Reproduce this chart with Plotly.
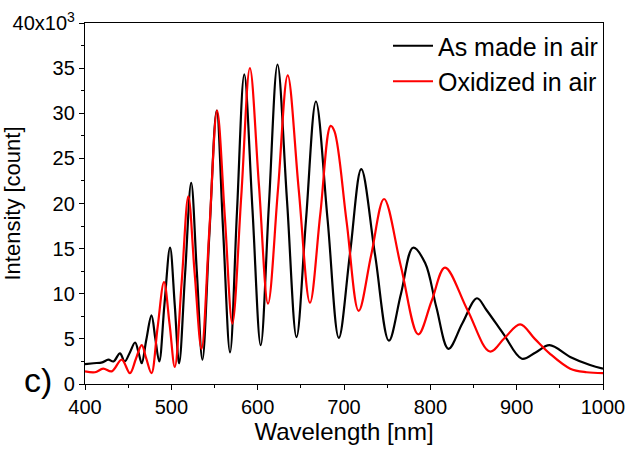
import plotly.graph_objects as go

# Wavelength [nm] and intensity [x10^3 count]
black_x = [400, 410, 420, 427, 433, 440.5, 446, 452, 458, 462, 465.7, 471, 477, 481.5, 486,
           492, 498.5, 504, 509, 516, 523, 529.5, 536, 544, 552.5, 560, 568, 576, 584.5,
           594, 603.5, 613, 623, 634, 645, 656, 667.5, 681, 694, 707, 720, 736, 752, 766,
           780, 794, 807, 821, 837, 854, 865, 885, 906, 922, 938, 962, 985, 1000]
black_y = [2.2, 2.3, 2.4, 2.7, 2.5, 3.4, 2.5, 3.5, 4.6, 3.5, 2.3, 4.9, 7.6, 5.0, 2.5,
           8.8, 15.1, 8.7, 2.3, 12.3, 22.3, 12.5, 2.7, 16.5, 30.3, 17.0, 3.5, 19.0, 34.3,
           19.3, 4.3, 19.8, 35.4, 20.3, 5.2, 18.2, 31.3, 18.2, 5.1, 14.5, 23.8, 14.3, 4.8, 10.0,
           15.1, 13.4, 8.5, 3.9, 6.7, 9.5, 8.2, 5.5, 2.8, 3.5, 4.3, 3.0, 2.1, 1.7]

red_x = [400, 411.6, 421, 431, 442.5, 452, 459, 465.7, 471, 477, 484, 491.5, 498, 504,
         512, 519.7, 527, 535, 544, 553, 562, 570.7, 581, 591, 601.5, 612, 623.5, 634.8,
         647.5, 660.6, 672.5, 684.5, 689, 703, 717, 731.5, 746.4, 766, 786, 801.5, 817,
         843, 869, 886, 904, 921, 938, 962, 981, 1000]
red_y = [1.4, 1.3, 1.7, 1.4, 2.7, 1.2, 2.8, 4.3, 2.8, 1.2, 6.2, 11.3, 6.6, 1.9,
         11.3, 20.8, 12.3, 3.9, 17.0, 30.3, 18.5, 6.7, 20.8, 35.0, 22.0, 8.9, 21.5, 34.2,
         21.6, 9.0, 18.8, 28.6, 28.0, 18.0, 8.1, 14.3, 20.5, 13.0, 5.5, 9.2, 12.9,
         8.2, 3.6, 5.1, 6.6, 5.0, 3.4, 1.7, 1.3, 1.2]

series_names = ["As made in air", "Oxidized in air"]

x_ticks = [400, 500, 600, 700, 800, 900, 1000]
y_ticks = [0, 5, 10, 15, 20, 25, 30, 35, 40]
y_ticktext = ["0", "5", "10", "15", "20", "25", "30", "35", "40x10<sup>3</sup>"]

FONT = "Liberation Sans, Arial, sans-serif"

fig = go.Figure()
fig.add_trace(go.Scatter(x=black_x, y=black_y, mode="lines", name=series_names[0],
                         line=dict(color="black", width=2.2, shape="spline", smoothing=1.0)))
fig.add_trace(go.Scatter(x=red_x, y=red_y, mode="lines", name=series_names[1],
                         line=dict(color="#ff0000", width=2.2, shape="spline", smoothing=1.0)))

fig.update_layout(
    width=629, height=451,
    margin=dict(l=85, r=26, t=23, b=67, autoexpand=False),
    paper_bgcolor="white", plot_bgcolor="white",
    font=dict(family=FONT, color="black", size=20),
    showlegend=True,
    legend=dict(x=1.0, xanchor="right", y=1.0, yanchor="top",
                bgcolor="rgba(0,0,0,0)", borderwidth=0,
                font=dict(size=25, family=FONT), tracegroupgap=0,
                itemwidth=40),
    xaxis=dict(range=[400, 1000], tickvals=x_ticks, ticks="outside", ticklen=5,
               tickwidth=1.3, tickcolor="black", showline=True, linecolor="black",
               linewidth=1.3, mirror=True, showgrid=False, zeroline=False,
               automargin=False,
               minor=dict(dtick=50, ticks="outside", ticklen=3, tickcolor="black",
                          tickwidth=1.3, showgrid=False),
               title=dict(text="Wavelength [nm]", font=dict(size=24), standoff=2),
               tickfont=dict(size=20)),
    yaxis=dict(range=[0, 40], tickvals=y_ticks, ticktext=y_ticktext, ticks="outside",
               ticklen=5, tickwidth=1.3, tickcolor="black", showline=True,
               linecolor="black", linewidth=1.3, mirror=True, showgrid=False,
               zeroline=False, automargin=False,
               minor=dict(dtick=2.5, ticks="outside", ticklen=3, tickcolor="black",
                          tickwidth=1.3, showgrid=False),
               title=dict(text="Intensity [count]", font=dict(size=22), standoff=4),
               tickfont=dict(size=20)),
)

fig.add_annotation(text="c)", xref="paper", yref="paper", x=-0.09, y=0.01,
                   xanchor="center", yanchor="middle", showarrow=False,
                   font=dict(size=34, family=FONT, color="black"))

fig.write_html("out.html")
